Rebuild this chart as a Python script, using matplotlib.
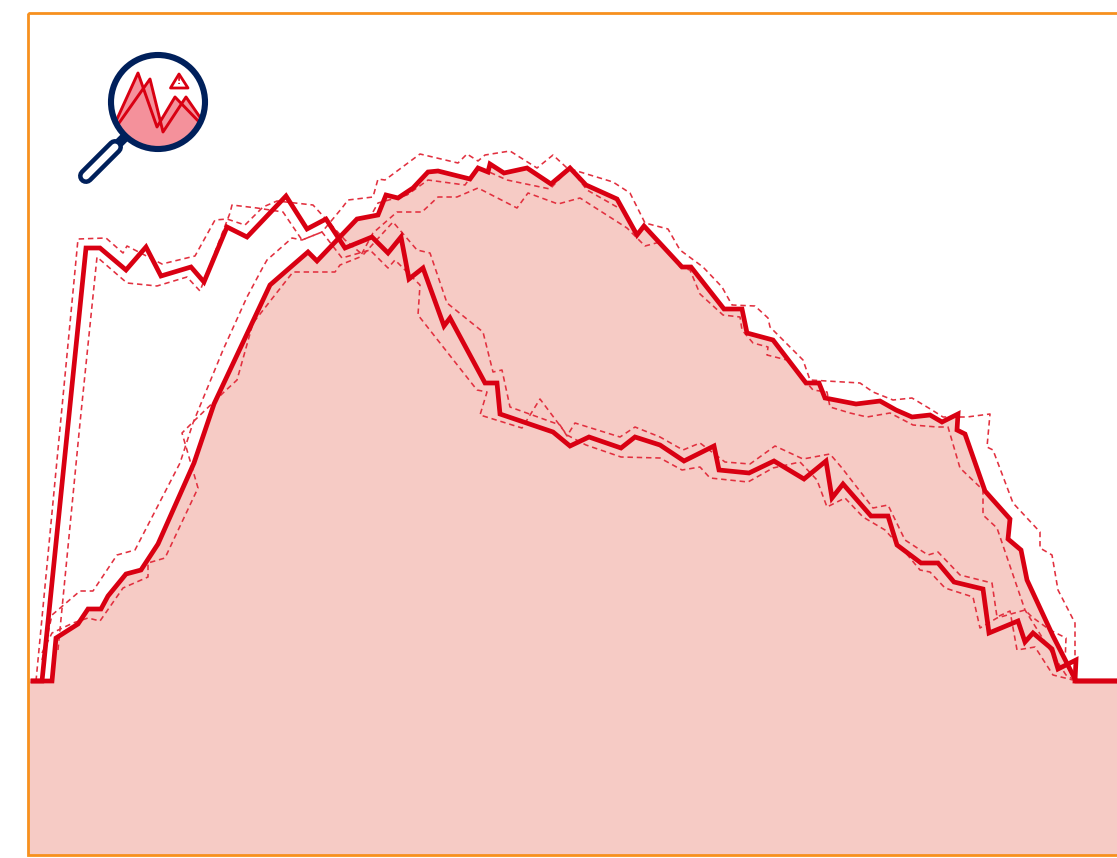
import matplotlib
matplotlib.use("Agg")
import matplotlib.pyplot as plt
from matplotlib.patches import Circle, Polygon, Rectangle

# values, in picture units (y grows downward)
a_x = [33, 42, 86, 100, 126, 146, 161, 191, 204, 227, 247, 286, 307, 326, 345, 372, 388, 401, 409, 423, 444, 450, 485, 497, 500, 553, 570, 589, 621, 635, 660, 684, 714, 719, 749, 774, 804, 826, 832, 843, 871, 888, 897, 921, 938, 954, 983, 989, 1018, 1025, 1033, 1052, 1058, 1076, 1075, 1117]
a_y = [681, 681, 248, 248, 270, 247, 276, 267, 282, 227, 237, 196, 229, 219, 248, 237, 253, 237, 279, 268, 326, 318, 383, 383, 414, 432, 446, 437, 448, 437, 445, 461, 446, 470, 473, 461, 479, 461, 498, 484, 516, 516, 545, 563, 563, 582, 589, 633, 621, 642, 633, 649, 669, 660, 681, 681]

b_x = [33, 52, 56, 78, 88, 101, 108, 126, 141, 158, 194, 214, 270, 308, 317, 357, 378, 386, 398, 413, 428, 438, 470, 478, 488, 490, 504, 527, 551, 570, 586, 617, 637, 644, 682, 691, 724, 742, 747, 773, 806, 819, 825, 856, 880, 896, 912, 930, 942, 958, 957, 965, 985, 1010, 1008, 1021, 1027, 1053, 1076, 1117]
b_y = [681, 681, 638, 624, 609, 609, 596, 574, 570, 544, 463, 404, 285, 252, 261, 219, 215, 195, 198, 188, 172, 171, 179, 168, 172, 164, 173, 168, 184, 168, 185, 199, 235, 226, 267, 267, 309, 309, 333, 340, 383, 383, 398, 404, 401, 410, 417, 415, 422, 414, 430, 434, 491, 519, 539, 550, 580, 636, 681, 681]

a_up_x = [36, 78, 106, 123, 127, 162, 195, 215, 227, 245, 263, 277, 313, 345, 363, 393, 417, 430, 447, 483, 493, 502, 510, 560, 567, 575, 620, 635, 660, 683, 700, 725, 750, 775, 803, 830, 842, 873, 888, 905, 928, 938, 960, 992, 997, 1010, 1017, 1035, 1053, 1073]
a_up_y = [681, 239, 238, 253, 246, 264, 256, 220, 219, 225, 207, 201, 205, 240, 255, 222, 250, 253, 303, 332, 372, 370, 407, 425, 436, 423, 437, 427, 437, 450, 443, 462, 464, 446, 459, 454, 468, 508, 505, 540, 555, 552, 575, 583, 617, 611, 650, 647, 675, 680]

a_lo_x = [58, 80, 97, 127, 157, 187, 200, 230, 232, 257, 283, 302, 322, 342, 370, 388, 395, 420, 418, 477, 487, 480, 522, 540, 567, 586, 621, 660, 682, 700, 710, 748, 773, 800, 817, 827, 845, 863, 885, 905, 920, 930, 945, 973, 980, 997, 1025, 1032, 1050, 1066, 1065, 1076]
a_lo_y = [650, 423, 257, 283, 286, 277, 291, 213, 205, 208, 212, 240, 232, 258, 250, 268, 260, 285, 315, 390, 392, 415, 428, 399, 435, 445, 457, 458, 470, 467, 478, 482, 468, 462, 480, 507, 498, 517, 530, 552, 570, 572, 588, 597, 628, 618, 610, 617, 630, 638, 663, 681]

b_up_x = [42, 52, 80, 93, 117, 135, 180, 193, 223, 247, 263, 267, 292, 302, 322, 342, 348, 373, 378, 385, 420, 458, 467, 478, 485, 510, 537, 553, 567, 613, 630, 645, 668, 680, 703, 722, 732, 755, 768, 770, 803, 810, 860, 873, 893, 912, 932, 943, 967, 990, 987, 993, 1013, 1040, 1040, 1052, 1058, 1075, 1075, 1076]
b_up_y = [660, 615, 591, 591, 555, 550, 463, 423, 350, 297, 267, 260, 238, 240, 232, 208, 200, 197, 179, 180, 154, 163, 154, 161, 155, 151, 168, 155, 168, 182, 193, 223, 229, 250, 267, 287, 305, 306, 318, 327, 360, 380, 383, 392, 400, 398, 410, 417, 417, 414, 447, 450, 503, 532, 548, 555, 590, 623, 670, 681]

b_lo_x = [42, 52, 73, 88, 100, 123, 148, 148, 165, 198, 182, 195, 223, 237, 253, 293, 335, 340, 360, 373, 397, 422, 438, 457, 478, 517, 528, 558, 580, 627, 645, 660, 680, 690, 700, 723, 740, 742, 753, 768, 767, 787, 807, 813, 827, 830, 850, 867, 890, 913, 937, 948, 960, 983, 983, 997, 1025, 1050, 1066, 1076]
b_lo_y = [653, 633, 623, 618, 621, 588, 577, 563, 558, 488, 433, 420, 393, 380, 323, 272, 272, 265, 257, 233, 212, 212, 197, 197, 188, 208, 193, 204, 198, 228, 246, 242, 267, 270, 294, 315, 317, 330, 343, 347, 355, 360, 383, 390, 392, 407, 413, 417, 413, 425, 427, 427, 468, 490, 515, 528, 610, 650, 675, 681]

b_mid_x = [373, 378, 407, 428, 465, 478, 507, 550, 570, 587, 617]
b_mid_y = [212, 203, 195, 180, 185, 167, 180, 189, 168, 190, 207]

RED = "#d90012"
PINK = "#f6cbc5"
ORANGE = "#f7901e"
NAVY = "#00205b"

fig = plt.figure(figsize=(11.17, 8.58), dpi=100)
ax = fig.add_axes([0, 0, 1, 1])
ax.set_xlim(0, 1117)
ax.set_ylim(858, 0)
ax.axis("off")

# area under the second series
ax.fill_between([28] + b_x, [681] + b_y, 855, color=PINK, lw=0, zorder=1)

for xs, ys in [(a_up_x, a_up_y), (a_lo_x, a_lo_y), (b_up_x, b_up_y), (b_lo_x, b_lo_y), (b_mid_x, b_mid_y)]:
    ax.plot(xs, ys, color="#e2303f", lw=1.15, ls=(0, (3.4, 2.4)), zorder=2)

ax.plot(b_x, b_y, color=RED, lw=3.4, solid_joinstyle="miter", zorder=3)
ax.plot(a_x, a_y, color=RED, lw=3.4, solid_joinstyle="miter", zorder=3)

# frame
ax.add_patch(Rectangle((28, 13), 1095, 842, fill=False, ec=ORANGE, lw=2.0, zorder=4))

# magnifier icon
clip = Circle((158, 102), 47, transform=ax.transData)
peaks = [[(108, 140), (138, 73), (157, 127), (175, 97), (210, 140), (210, 155), (108, 155)],
         [(108, 140), (150, 79), (163, 132), (186, 97), (210, 133), (210, 155), (108, 155)]]
for pts in peaks:
    p = Polygon(pts, fc="#f4919b", ec="none", zorder=5)
    ax.add_patch(p)
    p.set_clip_path(clip)
for xs, ys in [([112, 138, 157, 175, 204], [130, 73, 127, 97, 127]), ([112, 150, 163, 186, 206], [133, 79, 132, 97, 126])]:
    ln, = ax.plot(xs, ys, color=RED, lw=2.1, zorder=6)
    ln.set_clip_path(clip)
ax.add_patch(Circle((158, 102), 47, fill=False, ec=NAVY, lw=4.4, zorder=7))
ax.add_patch(Polygon([(179, 74), (170.5, 88), (188, 88)], fc="white", ec=RED, lw=2.0, joinstyle="round", zorder=7))
ax.text(179.3, 81.5, "!", color=RED, fontsize=6.5, fontweight="bold", ha="center", va="center", zorder=8)
ax.plot([127, 112], [135, 150], color=NAVY, lw=7, solid_capstyle="butt", zorder=7)
ax.plot([115, 86], [147, 176], color=NAVY, lw=11.5, solid_capstyle="round", zorder=7)
ax.plot([115, 86], [147, 176], color="white", lw=5, solid_capstyle="round", zorder=8)

fig.savefig("out.png", dpi=100)
